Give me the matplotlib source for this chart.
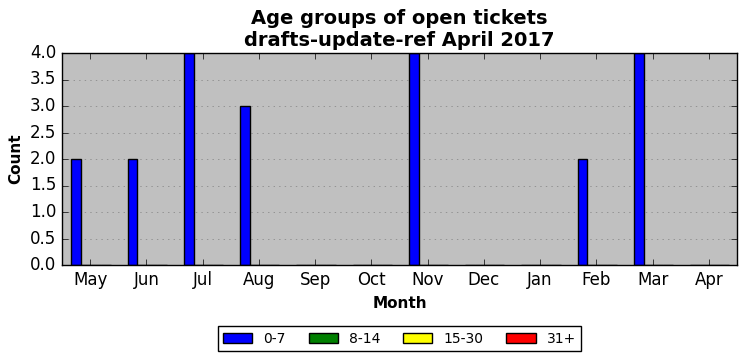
import matplotlib
matplotlib.use("Agg")
import matplotlib.pyplot as plt
import numpy as np

months = ["May", "Jun", "Jul", "Aug", "Sep", "Oct", "Nov", "Dec", "Jan", "Feb", "Mar", "Apr"]
age_0_7 = [2, 2, 4, 3, 0, 0, 4, 0, 0, 2, 4, 0]
age_8_14 = [0, 0, 0, 0, 0, 0, 0, 0, 0, 0, 0, 0]
age_15_30 = [0, 0, 0, 0, 0, 0, 0, 0, 0, 0, 0, 0]
age_31p = [0, 0, 0, 0, 0, 0, 0, 0, 0, 0, 0, 0]
series = [("0-7", age_0_7, "blue"), ("8-14", age_8_14, "green"),
          ("15-30", age_15_30, "yellow"), ("31+", age_31p, "red")]

plt.style.use("classic")
fig = plt.figure(figsize=(7.46, 3.61), dpi=100)
ax = fig.add_axes([62/746, 1-265/361, (737-62)/746, (265-53)/361])
ax.set_facecolor("#c0c0c0")
x = np.arange(len(months))
w = 0.175
for k, (lab, vals, col) in enumerate(series):
    ax.bar(x - 0.335 + k*w, vals, width=w, align="edge", color=col, edgecolor="black",
           linewidth=1, label=lab, zorder=2)
ax.set_xlim(-0.5, 11.5)
ax.set_ylim(0, 4)
ax.set_yticks(np.arange(0, 4.01, 0.5))
ax.set_xticks(x)
ax.set_xticklabels(months)
ax.tick_params(labelsize=12)
ax.yaxis.grid(True, linestyle=":", color="#808080", zorder=0)
ax.set_axisbelow(True)
ax.set_xlabel("Month", fontsize=11, fontweight="bold")
ax.set_ylabel("Count", fontsize=11, fontweight="bold")
ax.set_title("Age groups of open tickets\ndrafts-update-ref April 2017", fontsize=14,
             fontweight="bold", linespacing=1.2)
leg = ax.legend(loc="upper center", bbox_to_anchor=(0.5, -0.288), ncol=4, fontsize=10,
                fancybox=False, borderaxespad=0, handlelength=2.1, columnspacing=1.65,
                handletextpad=0.8)
fig.savefig("out.png", dpi=100)
